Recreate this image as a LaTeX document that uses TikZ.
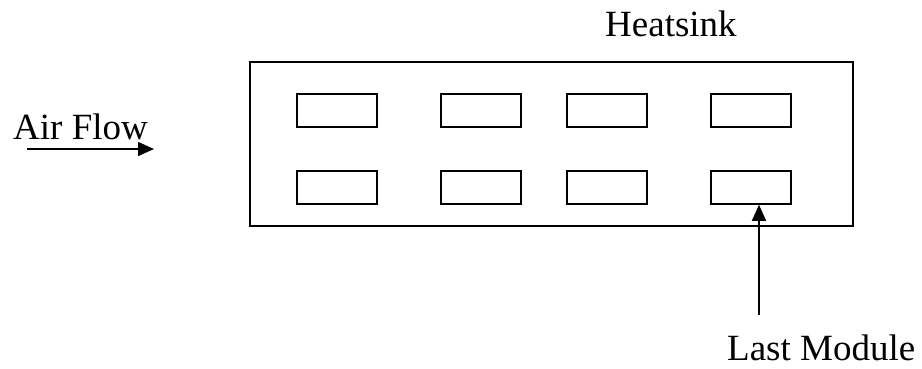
\documentclass[tikz,border=0pt]{standalone}
\usepackage{fontspec}
\setmainfont{Liberation Serif}
\usetikzlibrary{arrows.meta}
\begin{document}
\begin{tikzpicture}[x=1pt,y=-1pt,
  module/.style={draw,line width=1.5pt,minimum width=80pt,minimum height=33pt,inner sep=0pt},
  label/.style={anchor=base west,inner sep=0pt,font=\fontsize{37}{40}\selectfont},
  flow/.style={line width=1.5pt,-{Triangle[length=16pt,width=14pt]}}]
\useasboundingbox (0,0) rectangle (922,368);
\node[draw,line width=1.5pt,minimum width=603pt,minimum height=164pt,inner sep=0pt] (hs) at (551.5,144) {};
\foreach \c/\x in {1/337,2/481,3/607,4/751}{
  \node[module] (m1\c) at (\x,110.5) {};
  \node[module] (m2\c) at (\x,187.5) {};
}
\node[label] (hst) at (605,36) {Heatsink};
\node[label] (air) at (13,139) {Air Flow};
\node[label] (lmt) at (727,360) {Last Module};
\coordinate (a0) at (27,149);
\coordinate (a1) at (154,149);
\draw[flow] (a0) -- (a1);
\coordinate (lm) at (759,315);
\draw[flow] (lm) -- (lm |- m24.south);
\end{tikzpicture}
\end{document}
